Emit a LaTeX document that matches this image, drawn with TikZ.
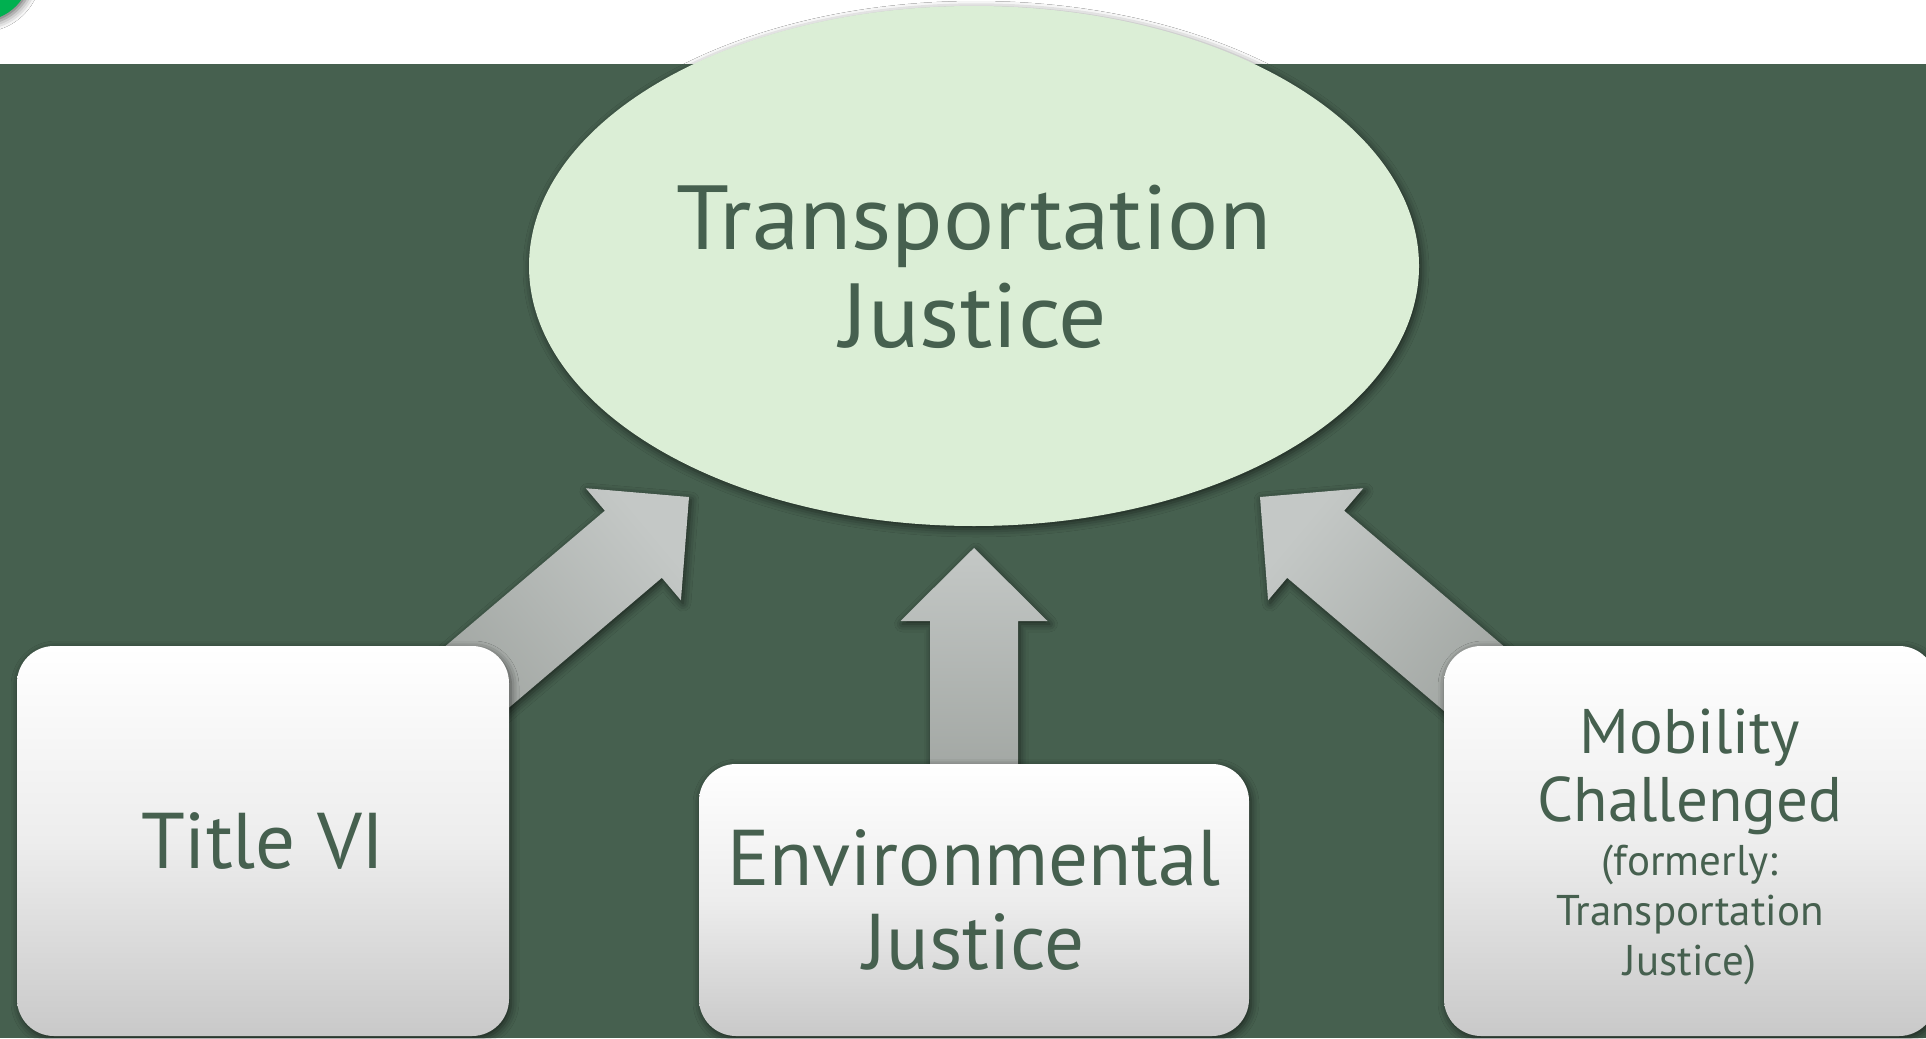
\documentclass[tikz,border=0pt]{standalone}
\usepackage{fontspec}
\setmainfont{PT Sans}
\usetikzlibrary{shapes.geometric,shadows.blur,calc}
\definecolor{bgdark}{HTML}{46604F}
\definecolor{txt}{HTML}{46604F}
\definecolor{ellfill}{HTML}{DBEED6}
\definecolor{accent}{HTML}{00B050}
\definecolor{arrtop}{HTML}{C4C8C6}
\definecolor{arrbot}{HTML}{9EA39F}
\definecolor{boxmid}{HTML}{EDEDED}
\definecolor{boxbot}{HTML}{C9C9C9}
\tikzset{
  softshadow/.style={blur shadow={shadow xshift=2pt, shadow yshift=-3pt, shadow blur radius=8pt, shadow opacity=60}},
  hub/.style={ellipse, fill=ellfill, minimum width=890pt, minimum height=520pt, inner sep=0pt,
    text=txt, align=center, softshadow},
  card/.style={rectangle, rounded corners=37pt, top color=white, bottom color=boxbot, middle color=boxmid,
    inner sep=0pt, text=txt, align=center, softshadow},
  label/.style={text=txt, align=center, inner sep=0pt},
  blockarrow/.style={top color=arrtop, bottom color=arrbot, softshadow},
}
\newcommand\blkarrow[3]{%
  \path ($(#2)!73pt!(#1)$) coordinate (hb);
  \path[blockarrow, shading angle=#3]
    ($(#1)!44pt!90:(#2)$) -- ($(hb)!44pt!90:(#2)$) -- ($(hb)!73.5pt!90:(#2)$) -- (#2)
    -- ($(hb)!73.5pt!-90:(#2)$) -- ($(hb)!44pt!-90:(#2)$) -- ($(#1)!44pt!-90:(#2)$) -- cycle;
}
\begin{document}
\begin{tikzpicture}[x=1pt,y=-1pt]
\useasboundingbox (0,0) rectangle (1926,1038);
\clip (0,0) rectangle (1926,1038);
\fill[white] (0,0) rectangle (1926,1038);
\fill[bgdark] (0,64) rectangle (1926,1038);
\fill[accent, softshadow] (-20,-30) circle (51pt);

% arrows
\coordinate (tipL) at (689,497);
\coordinate (tailL) at (437,711);
\coordinate (tipR) at (1260,497);
\coordinate (tailR) at (1512,711);
\coordinate (tipC) at (974,548);
\coordinate (tailC) at (974,800);
\blkarrow{tailL}{tipL}{-50}
\blkarrow{tailR}{tipR}{50}
\blkarrow{tailC}{tipC}{0}

% hub
\node[hub] (tj) at (974,266) {};
\node[label, font={\fontsize{91}{98}\selectfont\addfontfeature{FakeStretch=1.05}\lineskiplimit=-200pt}]
  (tjtext) at ([yshift=-1pt]tj.center) {Transportation\\Justice};

% cards
\node[card, minimum width=492pt, minimum height=390pt,
  font={\fontsize{79}{84}\selectfont\lineskiplimit=-200pt}] (t6) at (263,841) {Title VI};
\node[card, minimum width=550pt, minimum height=272pt,
  font={\fontsize{79}{84}\selectfont\lineskiplimit=-200pt}] (ej) at (974,900) {Environmental\\Justice};
\node[card, minimum width=492pt, minimum height=390pt] (mc) at (1690,841) {};
\node[label, font={\fontsize{43}{50}\selectfont\lineskiplimit=-200pt}] (mctext) at ([yshift=-6pt]mc.center)
  {\fontsize{63}{68}\selectfont Mobility\\[18pt]\fontsize{63}{68}\selectfont Challenged\\[4pt]
   (formerly:\\Transportation\\Justice)};
\end{tikzpicture}
\end{document}
